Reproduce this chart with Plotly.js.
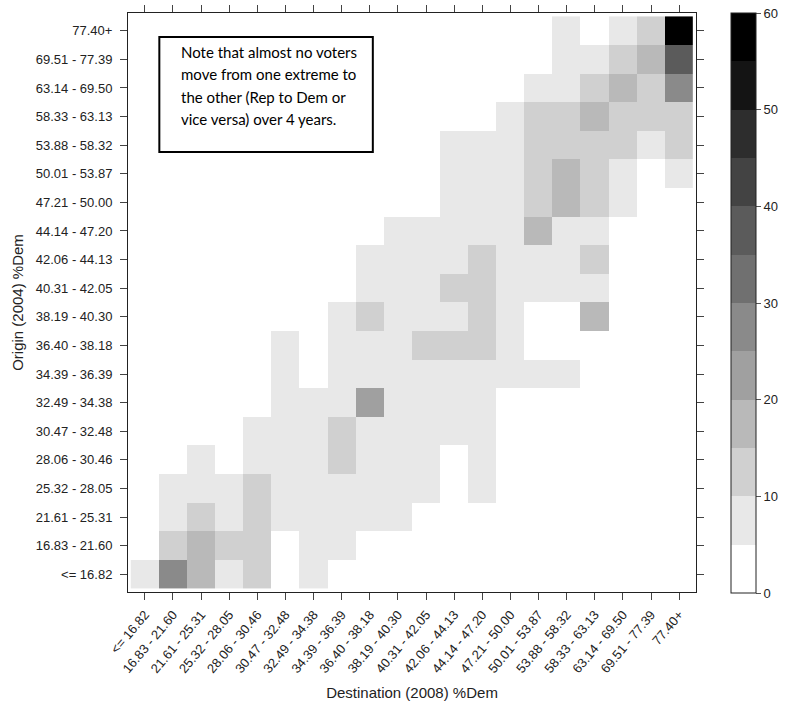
<!DOCTYPE html>
<html><head><meta charset="utf-8">
<script src="https://cdn.plot.ly/plotly-3.0.1.min.js"></script>
<style>html,body{margin:0;padding:0;background:#fff;}#chart{width:791px;height:710px;}</style>
</head><body><div id="chart"></div>
<script>
const bins = ["<= 16.82","16.83 - 21.60","21.61 - 25.31","25.32 - 28.05","28.06 - 30.46","30.47 - 32.48","32.49 - 34.38","34.39 - 36.39","36.40 - 38.18","38.19 - 40.30","40.31 - 42.05","42.06 - 44.13","44.14 - 47.20","47.21 - 50.00","50.01 - 53.87","53.88 - 58.32","58.33 - 63.13","63.14 - 69.50","69.51 - 77.39","77.40+"];
// rows: origin (2004) bin, bottom to top; columns: destination (2008) bin
const z = [
 [7,27,17,7,12,0,7,0,0,0,0,0,0,0,0,0,0,0,0,0],
 [0,12,17,12,12,0,7,7,0,0,0,0,0,0,0,0,0,0,0,0],
 [0,7,12,7,12,7,7,7,7,7,0,0,0,0,0,0,0,0,0,0],
 [0,7,7,7,12,7,7,7,7,7,7,0,7,0,0,0,0,0,0,0],
 [0,0,7,0,7,7,7,12,7,7,7,0,7,0,0,0,0,0,0,0],
 [0,0,0,0,7,7,7,12,7,7,7,7,7,0,0,0,0,0,0,0],
 [0,0,0,0,0,7,7,7,22,7,7,7,7,0,0,0,0,0,0,0],
 [0,0,0,0,0,7,0,7,7,7,7,7,7,7,7,7,0,0,0,0],
 [0,0,0,0,0,7,0,7,7,7,12,12,12,7,0,0,0,0,0,0],
 [0,0,0,0,0,0,0,7,12,7,7,7,12,7,0,0,17,0,0,0],
 [0,0,0,0,0,0,0,0,7,7,7,12,12,7,7,7,7,0,0,0],
 [0,0,0,0,0,0,0,0,7,7,7,7,12,7,7,7,12,0,0,0],
 [0,0,0,0,0,0,0,0,0,7,7,7,7,7,17,7,7,0,0,0],
 [0,0,0,0,0,0,0,0,0,0,0,7,7,7,12,17,12,7,0,0],
 [0,0,0,0,0,0,0,0,0,0,0,7,7,7,12,17,12,7,0,7],
 [0,0,0,0,0,0,0,0,0,0,0,7,7,7,12,12,12,12,7,12],
 [0,0,0,0,0,0,0,0,0,0,0,0,0,7,12,12,17,12,12,12],
 [0,0,0,0,0,0,0,0,0,0,0,0,0,0,7,7,12,17,12,27],
 [0,0,0,0,0,0,0,0,0,0,0,0,0,0,0,7,7,12,17,37],
 [0,0,0,0,0,0,0,0,0,0,0,0,0,0,0,7,0,7,12,58]
];
const bandColors = ["#ffffff","#e8e8e8","#d0d0d0","#b9b9b9","#a0a0a0","#8a8a8a","#707070","#5b5b5b","#434343","#2d2d2d","#141414","#000000"];
const cbTicks = [0,10,20,30,40,50,60];
const noteLines = ["Note that almost no voters","move from one extreme to","the other (Rep to Dem or","vice versa) over 4 years."];

const cs = [];
bandColors.forEach((c,i)=>{cs.push([i/bandColors.length,c]);cs.push([(i+1)/bandColors.length,c]);});

const fam = "Arial, 'Liberation Sans', sans-serif";
const tickFont = {family:fam, size:13, color:"#222"};
const trace = {
  type:"heatmap", x:bins, y:bins, z:z, zmin:0, zmax:60,
  colorscale:cs, xgap:0, ygap:0, hoverongaps:false,
  colorbar:{
    thickness:25, thicknessmode:"pixels", len:580, lenmode:"pixels",
    x:1.061, xanchor:"left", xref:"paper", y:1.0, yanchor:"top", ypad:0, xpad:0,
    outlinewidth:1, outlinecolor:"#222",
    tickvals:cbTicks, ticktext:cbTicks.map(String), ticks:"outside", ticklen:5, tickcolor:"#555",
    tickfont:{family:fam, size:13, color:"#222"}
  }
};
const annotations = noteLines.map((t,i)=>({
  xref:"paper", yref:"paper", x:(180-128)/580, y:(592-(52+i*22.4))/579,
  xanchor:"left", yanchor:"middle", align:"left", showarrow:false,
  text:t, font:{family:"Lato, Carlito, sans-serif", size:15, color:"#000"}
}));
const layout = {
  width:791, height:710,
  margin:{l:128, r:83, t:13, b:118},
  paper_bgcolor:"#fff", plot_bgcolor:"#fff",
  font:{family:fam, color:"#222"},
  xaxis:{type:"category", range:[-0.6,19.6], showgrid:false, zeroline:false,
    showline:true, linecolor:"#222", linewidth:1, mirror:"ticks",
    ticks:"outside", ticklen:7, tickcolor:"#444", tickangle:-50, tickfont:tickFont,
    ticklabelstandoff:2,
    title:{text:"Destination (2008) %Dem", font:{family:fam, size:15, color:"#222"}, standoff:12}},
  yaxis:{type:"category", range:[-0.62,19.62], showgrid:false, zeroline:false,
    showline:true, linecolor:"#222", linewidth:1, mirror:"ticks",
    ticks:"outside", ticklen:7, tickcolor:"#444", tickfont:tickFont,
    ticklabelstandoff:5,
    title:{text:"Origin (2004) %Dem", font:{family:fam, size:15, color:"#222"}, standoff:8}},
  shapes:[{type:"rect", xref:"paper", yref:"paper",
    x0:(160-128)/580, x1:(378-128)/580, y0:(592-152)/579, y1:(592-37)/579,
    line:{color:"#000", width:2}, fillcolor:"rgba(255,255,255,0)"}],
  annotations:annotations
};
Plotly.newPlot("chart",[trace],layout,{displayModeBar:false,staticPlot:true});
</script></body></html>
